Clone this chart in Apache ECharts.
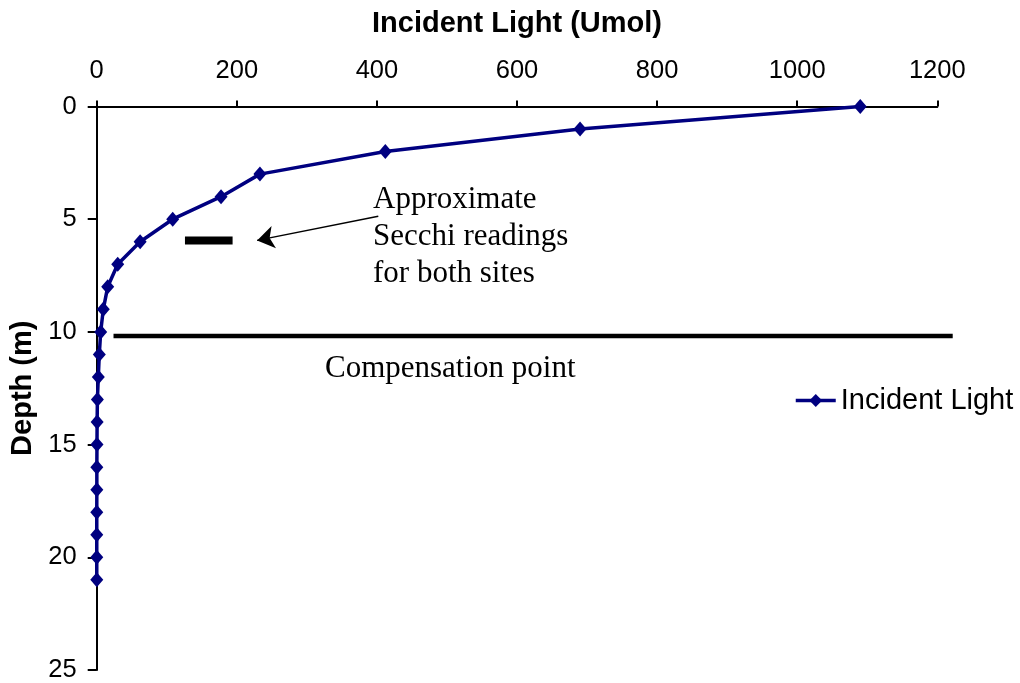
<!DOCTYPE html>
<html><head><meta charset="utf-8">
<script src="https://cdn.jsdelivr.net/npm/echarts@6/dist/echarts.min.js"></script>
<style>html,body{margin:0;padding:0;background:#fff}#c{width:1020px;height:683px}</style>
</head><body><div id="c"></div>
<script>
// ---- data ----
const depths = [0,1,2,3,4,5,6,7,8,9,10,11,12,13,14,15,16,17,18,19,20,21];
const incidentLight = [1090,690,412,233,177.5,108.5,62,30,15.7,9.4,5.7,3.7,2.3,1.0,0.6,0.4,0.2,0.2,0.1,0.1,0.1,0.1];
const xTickMin = 0, xTickMax = 1200, xTickStep = 200;
const yTickMin = 0, yTickMax = 25, yTickStep = 5;
const compensationDepth = 10.18;
const compensationRange = [24, 1222];
const secchiDepth = 5.94;
const secchiRange = [126, 194];
const arrowFrom = [402, 4.87];
const arrowTo = [229, 5.94];
const annotationLines = ['Approximate', 'Secchi readings', 'for both sites'];
const compensationLabel = 'Compensation point';

const SANS = '"Liberation Sans", Arial, sans-serif';
const SERIF = '"Liberation Serif", "Times New Roman", serif';

const chart = echarts.init(document.getElementById('c'), null, {renderer: 'canvas'});
const lightData = depths.map((d, i) => [incidentLight[i], d]);

const option = {
  animation: false,
  backgroundColor: '#fff',
  grid: {left: 96.7, top: 106.5, right: 82.7, bottom: 11.3, containLabel: false},
  legend: {
    data: ['Incident Light'],
    left: 789, top: 381,
    itemWidth: 40, itemHeight: 16, itemGap: 6,
    lineStyle: {width: 3.5},
    textStyle: {fontFamily: SANS, fontSize: 29, color: '#000'}
  },
  xAxis: {
    type: 'value', position: 'top',
    min: xTickMin, max: xTickMax, interval: xTickStep,
    name: 'Incident Light (Umol)', nameLocation: 'middle', nameGap: 68,
    nameTextStyle: {fontFamily: SANS, fontSize: 29, fontWeight: 'bold', color: '#000'},
    axisLine: {show: true, lineStyle: {color: '#000', width: 2}},
    axisTick: {show: true, length: 6, lineStyle: {color: '#000', width: 2}},
    axisLabel: {fontFamily: SANS, fontSize: 25.5, color: '#000', margin: 23, formatter: v => String(v)},
    splitLine: {show: false}
  },
  yAxis: {
    type: 'value', inverse: true,
    min: yTickMin, max: yTickMax, interval: yTickStep,
    name: 'Depth (m)', nameLocation: 'middle', nameGap: 49, nameRotate: 90,
    nameTextStyle: {fontFamily: SANS, fontSize: 29, fontWeight: 'bold', color: '#000'},
    axisLine: {show: true, lineStyle: {color: '#000', width: 2}},
    axisTick: {show: true, length: 9, lineStyle: {color: '#000', width: 2}},
    axisLabel: {fontFamily: SANS, fontSize: 25.5, color: '#000', margin: 20, formatter: v => String(v)},
    splitLine: {show: false}
  },
  series: [
    {
      name: 'Incident Light', type: 'line', data: lightData,
      symbol: 'diamond', symbolSize: [13, 15],
      lineStyle: {color: '#000080', width: 3.5},
      itemStyle: {color: '#000080'},
      z: 5
    },
    {
      name: 'secchi', type: 'line', silent: true, clip: false,
      data: [[secchiRange[0], secchiDepth], [secchiRange[1], secchiDepth]],
      symbol: 'none', lineStyle: {color: '#000', width: 8}, z: 3
    },
    {
      name: 'arrow', type: 'line', silent: true, data: [],
      markLine: {
        silent: true, animation: false,
        symbol: ['none', 'arrow'], symbolSize: 17,
        label: {show: false},
        lineStyle: {color: '#000', width: 1.5, type: 'solid'},
        data: [[{coord: arrowFrom}, {coord: arrowTo}]]
      }
    }
  ]
};
chart.setOption(option);

// compensation line extends past the axis end, so draw it with converted coordinates
const p0 = chart.convertToPixel({gridIndex: 0}, [compensationRange[0], compensationDepth]);
const p1 = chart.convertToPixel({gridIndex: 0}, [compensationRange[1], compensationDepth]);
chart.setOption({
  graphic: [
    {type: 'line', shape: {x1: p0[0], y1: p0[1], x2: p1[0], y2: p1[1]},
     style: {stroke: '#000', lineWidth: 4.5}, z: 3, silent: true},
    ...annotationLines.map((t, i) => ({
      type: 'text', left: 373, top: 184 + i * 37,
      style: {text: t, font: '31px ' + SERIF, fill: '#000'}
    })),
    {type: 'text', left: 325, top: 353,
     style: {text: compensationLabel, font: '31px ' + SERIF, fill: '#000'}}
  ]
});
</script>
</body></html>
